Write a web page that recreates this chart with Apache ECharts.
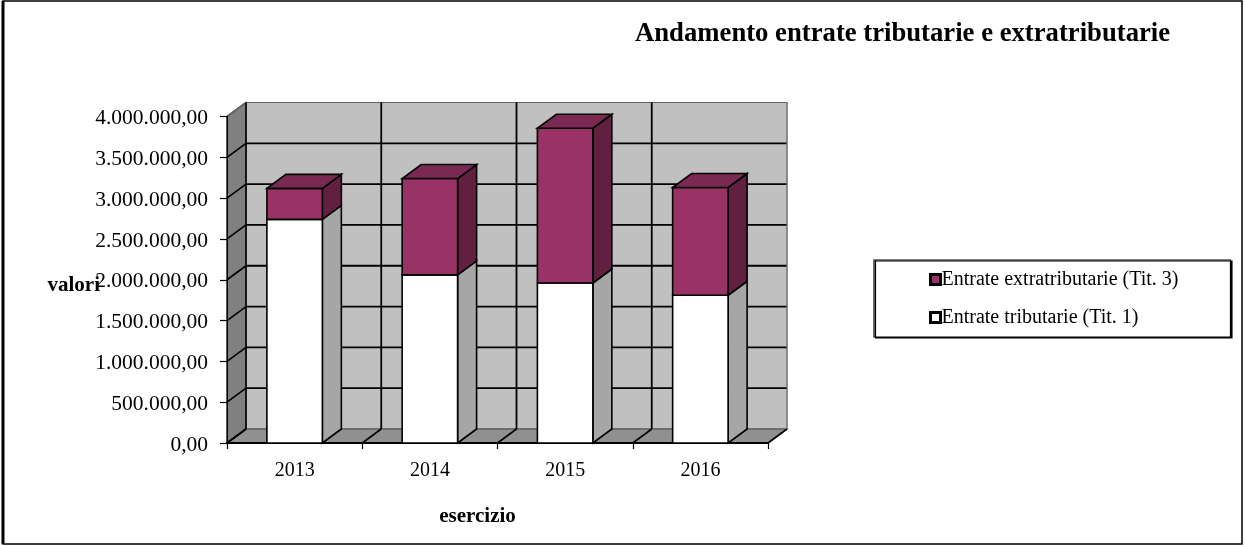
<!DOCTYPE html>
<html><head><meta charset="utf-8">
<style>html,body{margin:0;padding:0;background:#fff}#c{width:1245px;height:546px}</style>
<script src="https://cdn.jsdelivr.net/npm/echarts@6/dist/echarts.min.js"></script>
</head><body><div id="c"></div>
<script>
const categories = ['2013','2014','2015','2016'];
const tributarie = [2740000,2060000,1960000,1810000];
const extratributarie = [380000,1180000,1896000,1320000];
const yTicks = [0,500000,1000000,1500000,2000000,2500000,3000000,3500000,4000000];
const SERIF = '"Liberation Serif","Times New Roman",serif';
const DX = 19, DY = -14, BAR_RATIO = 0.41;

function fmt(v){
  const s = String(Math.round(v)).replace(/\B(?=(\d{3})+(?!\d))/g,'.');
  return s + ',00';
}
const BLACK = '#000';
function poly(pts, fill, stroke, lw){
  return {type:'polygon', shape:{points:pts}, style:{fill:fill, stroke:stroke||BLACK, lineWidth:lw==null?1.6:lw, lineJoin:'miter'}};
}
function seg(a,b,col,lw){
  return {type:'line', shape:{x1:a[0],y1:a[1],x2:b[0],y2:b[1]}, style:{stroke:col||BLACK, lineWidth:lw||1.6}};
}
function renderWalls(p, api){
  const band = api.size([1,0])[0];
  const ymin = yTicks[0], ymax = yTicks[yTicks.length-1];
  const x0 = api.coord([0,ymin])[0]-band/2, x1 = api.coord([categories.length-1,ymin])[0]+band/2;
  const yb = api.coord([0,ymin])[1], yt = api.coord([0,ymax])[1];
  const ch = [];
  ch.push(poly([[x0+DX,yt+DY],[x1+DX,yt+DY],[x1+DX,yb+DY],[x0+DX,yb+DY]],'#c0c0c0','#707070',1.2));
  ch.push(poly([[x0,yt],[x0+DX,yt+DY],[x0+DX,yb+DY],[x0,yb]],'#808080','#606060',1.2));
  ch.push(poly([[x0,yb],[x0+DX,yb+DY],[x1+DX,yb+DY],[x1,yb]],'#909090','#606060',1.2));
  yTicks.forEach(v=>{
    const y = api.coord([0,v])[1];
    const edge = v===ymin||v===ymax;
    ch.push(seg([x0+DX,y+DY],[x1+DX,y+DY], edge?'#606060':BLACK, edge?1.2:1.8));
    ch.push(seg([x0,y],[x0+DX,y+DY], edge&&v===ymax?'#606060':BLACK, 1.6));
  });
  for(let i=0;i<=categories.length;i++){
    const x = x0+band*i;
    if(i>0 && i<categories.length) ch.push(seg([x+DX,yt+DY],[x+DX,yb+DY],BLACK,1.8));
    ch.push(seg([x,yb],[x+DX,yb+DY],BLACK,1.6));
  }
  ch.push(seg([x0+DX,yt+DY],[x0+DX,yb+DY],BLACK,1.6));
  ch.push(seg([x0,yt],[x0,yb],'#333',1.2));
  ch.push(seg([x1+DX,yt+DY],[x1+DX,yb+DY],'#808080',1.2));
  return {type:'group', children:ch};
}
function barRenderer(front, side, top){
  return function(p, api){
    const i = api.value(0), lo = api.value(1), hi = api.value(2);
    const c = api.coord([i,lo]), d = api.coord([i,hi]);
    const w = api.size([1,0])[0]*BAR_RATIO;
    const l = c[0]-w/2, r = c[0]+w/2, yl = c[1], yh = d[1];
    const ch = [
      poly([[r,yl],[r+DX,yl+DY],[r+DX,yh+DY],[r,yh]],side),
      poly([[l,yl],[r,yl],[r,yh],[l,yh]],front)
    ];
    if(top) ch.push(poly([[l,yh],[l+DX,yh+DY],[r+DX,yh+DY],[r,yh]],top));
    return {type:'group', children:ch};
  };
}
const nameTrib = 'Entrate tributarie (Tit. 1)';
const nameExtra = 'Entrate extratributarie (Tit. 3)';
const chart = echarts.init(document.getElementById('c'),null,{renderer:'canvas'});
chart.setOption({
  animation:false,
  backgroundColor:'#fff',
  title:{text:'Andamento entrate tributarie e extratributarie',left:635,top:21,padding:0,
    textStyle:{fontFamily:SERIF,fontWeight:'bold',fontSize:26.7,color:'#000'}},
  legend:{orient:'vertical',left:874,top:260,itemGap:18,itemWidth:10,itemHeight:10,
    padding:[9.5,52,9.5,55],borderColor:'#000',borderWidth:1.2,backgroundColor:'#fff',
    shadowColor:'#000',shadowOffsetX:1.5,shadowOffsetY:1,shadowBlur:0,
    selectedMode:false,
    textStyle:{fontFamily:SERIF,fontSize:20,color:'#000',padding:[0,0,0,-4]},
    data:[
      {name:nameExtra,icon:'rect',itemStyle:{color:'#993366',borderColor:'#000',borderWidth:3}},
      {name:nameTrib,icon:'rect',itemStyle:{color:'#fff',borderColor:'#000',borderWidth:3}}
    ]},
  grid:{left:227,top:116.5,width:541,height:326.5,containLabel:false},
  xAxis:{type:'category',data:categories,boundaryGap:true,
    name:'esercizio',nameLocation:'middle',nameGap:63,nameMoveOverlap:false,
    nameTextStyle:{fontFamily:SERIF,fontWeight:'bold',fontSize:21,color:'#000',padding:[0,40,0,0]},
    axisLine:{show:true,lineStyle:{color:'#000',width:2}},
    axisTick:{show:true,alignWithLabel:false,length:6,lineStyle:{color:'#000',width:1.2}},
    axisLabel:{fontFamily:SERIF,fontSize:20,color:'#000',margin:18},
    splitLine:{show:false}},
  yAxis:{type:'value',min:0,max:4000000,interval:500000,
    name:'valori',nameLocation:'middle',nameRotate:0,nameGap:127,nameMoveOverlap:false,
    nameTextStyle:{fontFamily:SERIF,fontWeight:'bold',fontSize:21,color:'#000',verticalAlign:'top',lineHeight:11},
    axisLine:{show:true,lineStyle:{color:'#000',width:1}},
    axisTick:{show:true,length:7,lineStyle:{color:'#000',width:1.2}},
    axisLabel:{fontFamily:SERIF,fontSize:21.5,color:'#000',margin:19,verticalAlign:'top',lineHeight:4,formatter:fmt},
    splitLine:{show:false}},
  series:[
    {type:'custom',name:'walls',silent:true,z:-1,clip:false,data:[[0]],encode:{x:0},renderItem:renderWalls},
    {type:'custom',name:nameTrib,clip:false,z:3,itemStyle:{color:'#fff'},
      encode:{x:0,y:[1,2]},
      data:tributarie.map((v,i)=>[i,0,v]),
      renderItem:barRenderer('#ffffff','#a6a6a6',null)},
    {type:'custom',name:nameExtra,clip:false,z:4,itemStyle:{color:'#993366'},
      encode:{x:0,y:[1,2]},
      data:extratributarie.map((v,i)=>[i,tributarie[i],tributarie[i]+v]),
      renderItem:barRenderer('#993366','#622040','#7a2952')}
  ],
  graphic:[
    {type:'rect',silent:true,z:100,shape:{x:3,y:1,width:1239,height:543},style:{fill:'none',stroke:'#000',lineWidth:1.5}},
    {type:'line',silent:true,z:100,shape:{x1:3,y1:1,x2:3,y2:544},style:{stroke:'#000',lineWidth:3}}
  ]
});
</script></body></html>
